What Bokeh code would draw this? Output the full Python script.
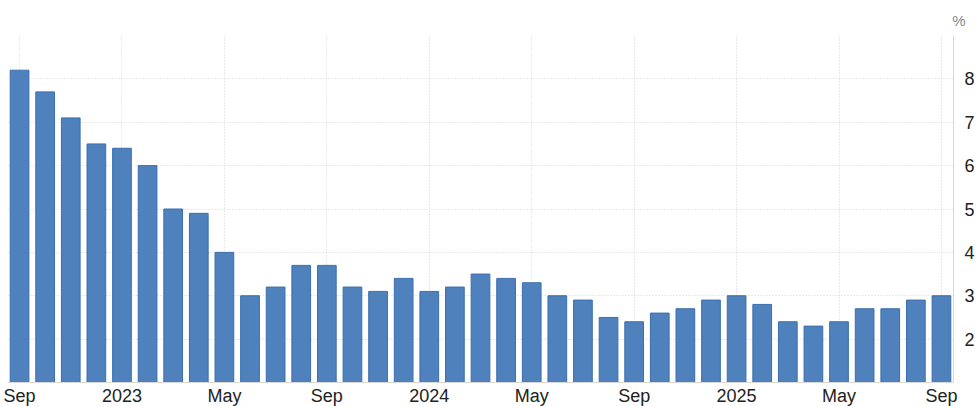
from bokeh.plotting import figure
from bokeh.models import FixedTicker, Range1d
from bokeh.embed import file_html
from bokeh.resources import INLINE

months = ["Sep 2022", "Oct 2022", "Nov 2022", "Dec 2022",
          "Jan 2023", "Feb 2023", "Mar 2023", "Apr 2023", "May 2023", "Jun 2023",
          "Jul 2023", "Aug 2023", "Sep 2023", "Oct 2023", "Nov 2023", "Dec 2023",
          "Jan 2024", "Feb 2024", "Mar 2024", "Apr 2024", "May 2024", "Jun 2024",
          "Jul 2024", "Aug 2024", "Sep 2024", "Oct 2024", "Nov 2024", "Dec 2024",
          "Jan 2025", "Feb 2025", "Mar 2025", "Apr 2025", "May 2025", "Jun 2025",
          "Jul 2025", "Aug 2025", "Sep 2025"]
inflation = [8.2, 7.7, 7.1, 6.5,
             6.4, 6.0, 5.0, 4.9, 4.0, 3.0,
             3.2, 3.7, 3.7, 3.2, 3.1, 3.4,
             3.1, 3.2, 3.5, 3.4, 3.3, 3.0,
             2.9, 2.5, 2.4, 2.6, 2.7, 2.9,
             3.0, 2.8, 2.4, 2.3, 2.4, 2.7,
             2.7, 2.9, 3.0]
x_tick_pos = [0, 4, 8, 12, 16, 20, 24, 28, 32, 36]
x_tick_labels = ["Sep", "2023", "May", "Sep", "2024", "May", "Sep", "2025", "May", "Sep"]
y_ticks = [2, 3, 4, 5, 6, 7, 8]
y_grid = [1, 2, 3, 4, 5, 6, 7, 8, 9]
unit = "%"

xs = list(range(len(months)))
base = 1.0

p = figure(frame_width=946, frame_height=347, width=980, height=406,
           output_backend="svg", toolbar_location=None,
           x_range=Range1d(-0.47, 36.47), y_range=Range1d(1, 9),
           y_axis_location="right",
           min_border_left=7, min_border_top=35, min_border_bottom=24,
           min_border_right=27)
p.outline_line_color = None
p.background_fill_color = "white"

p.vbar(x=xs, top=inflation, bottom=base, width=0.73,
       fill_color="#4f81bd", line_color="#3a6eae", line_width=1)

# axes
xa = p.xaxis[0]
xa.ticker = FixedTicker(ticks=x_tick_pos)
xa.major_label_overrides = {t: l for t, l in zip(x_tick_pos, x_tick_labels)}
xa.axis_line_color = "#d8d8d8"
xa.major_tick_line_color = None
xa.minor_tick_line_color = None
xa.major_label_text_font = "Liberation Sans"
xa.major_label_text_font_size = "18px"
xa.major_label_text_color = "#222222"
xa.major_label_standoff = -3

ya = p.yaxis[0]
ya.ticker = FixedTicker(ticks=y_ticks)
ya.axis_line_color = "#d8d8d8"
ya.major_tick_line_color = None
ya.minor_tick_line_color = None
ya.major_label_text_font = "Liberation Sans"
ya.major_label_text_font_size = "18px"
ya.major_label_text_color = "#222222"
ya.major_label_standoff = 5

p.xgrid.ticker = FixedTicker(ticks=x_tick_pos)
p.ygrid.ticker = FixedTicker(ticks=y_grid)
for g in (p.xgrid, p.ygrid):
    g.grid_line_color = "#d4d4d4"
    g.grid_line_dash = "1 2"
    g.grid_line_width = 1

p.title.text = unit
p.title.align = "right"
p.title.offset = -12
p.title.text_font = "Liberation Sans"
p.title.text_font_size = "15px"
p.title.text_font_style = "normal"
p.title.text_color = "#888888"
p.title.standoff = 14

open("out.html", "w").write(file_html(p, INLINE))
